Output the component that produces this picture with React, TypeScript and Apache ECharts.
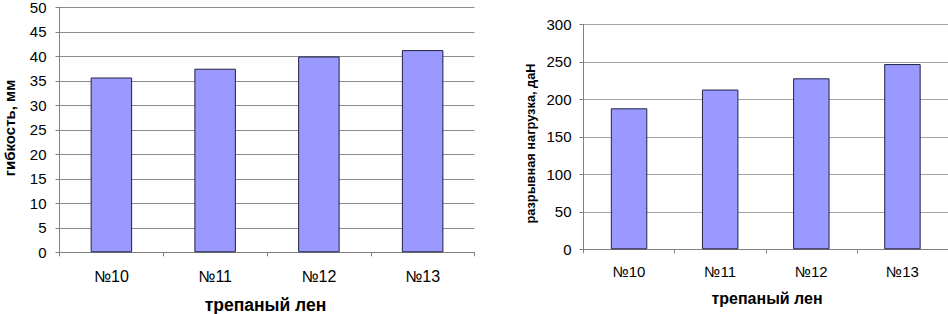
import React, { useEffect, useRef } from "react";
import * as echarts from "echarts";

const categories = ["№10", "№11", "№12", "№13"];
const flexibility = [35.7, 37.5, 40.0, 41.3];
const breakingLoad = [188, 213, 228, 247];
const leftTicks = { min: 0, max: 50, interval: 5 };
const rightTicks = { min: 0, max: 300, interval: 50 };
const xTitle = "трепаный лен";
const leftYTitle = "гибкость, мм";
const rightYTitle = "разрывная нагрузка, даН";

const FONT = "Arial, 'Liberation Sans', sans-serif";

export default function App() {
  const ref = useRef<HTMLDivElement>(null);
  useEffect(() => {
    document.body.style.margin = "0";
    if (!ref.current) return;
    const chart = echarts.init(ref.current, undefined, { renderer: "svg" });
    const axisGray = "#808080";
    const mkX = (gridIndex: number, fontSize: number, margin: number) => ({
      type: "category",
      gridIndex,
      data: categories,
      boundaryGap: true,
      axisLine: { show: true, lineStyle: { color: axisGray, width: 1 } },
      axisTick: { show: true, interval: 0, alignWithLabel: false, length: 4, lineStyle: { color: axisGray } },
      axisLabel: { color: "#000", fontSize, fontFamily: FONT, margin, interval: 0 },
      splitLine: { show: false },
    });
    const mkY = (gridIndex: number, t: any, fontSize: number, margin: number, grid: string) => ({
      type: "value",
      gridIndex,
      min: t.min,
      max: t.max,
      interval: t.interval,
      axisLine: { show: true, lineStyle: { color: axisGray, width: 1 } },
      axisTick: { show: true, length: 4, lineStyle: { color: axisGray } },
      axisLabel: { color: "#000", fontSize, fontFamily: FONT, margin },
      splitLine: { show: true, lineStyle: { color: grid, width: 1 } },
    });
    chart.setOption({
      animation: false,
      backgroundColor: "#fff",
      grid: [
        { left: 59.5, top: 5, width: 415, height: 247.3, containLabel: false },
        { left: 583.5, top: 24.3, width: 369.6, height: 225, containLabel: false },
      ],
      xAxis: [mkX(0, 16, 16), mkX(1, 15, 15)],
      yAxis: [mkY(0, leftTicks, 15, 13, "#8c8c8c"), mkY(1, rightTicks, 15, 12, "#a6a6a6")],
      series: [
        {
          type: "bar",
          xAxisIndex: 0,
          yAxisIndex: 0,
          data: flexibility,
          barWidth: "40%",
          itemStyle: { color: "#9999ff", borderColor: "#222244", borderWidth: 1 },
        },
        {
          type: "bar",
          xAxisIndex: 1,
          yAxisIndex: 1,
          data: breakingLoad,
          barWidth: "40%",
          itemStyle: { color: "#9999ff", borderColor: "#222244", borderWidth: 1 },
        },
      ],
      graphic: [
        {
          type: "text",
          x: 265.5,
          y: 305,
          style: { text: xTitle, font: `bold 17.5px ${FONT}`, fill: "#000", textAlign: "center", textVerticalAlign: "middle" },
        },
        {
          type: "text",
          x: 9,
          y: 128,
          rotation: Math.PI / 2,
          style: { text: leftYTitle, font: `bold 15px ${FONT}`, fill: "#000", textAlign: "center", textVerticalAlign: "middle" },
        },
        {
          type: "text",
          x: 767,
          y: 298,
          style: { text: xTitle, font: `bold 16px ${FONT}`, fill: "#000", textAlign: "center", textVerticalAlign: "middle" },
        },
        {
          type: "text",
          x: 530,
          y: 143.5,
          rotation: Math.PI / 2,
          style: { text: rightYTitle, font: `bold 12.8px ${FONT}`, fill: "#000", textAlign: "center", textVerticalAlign: "middle" },
        },
      ],
    });
    return () => chart.dispose();
  }, []);
  return <div ref={ref} style={{ width: 948, height: 314 }} />;
}
